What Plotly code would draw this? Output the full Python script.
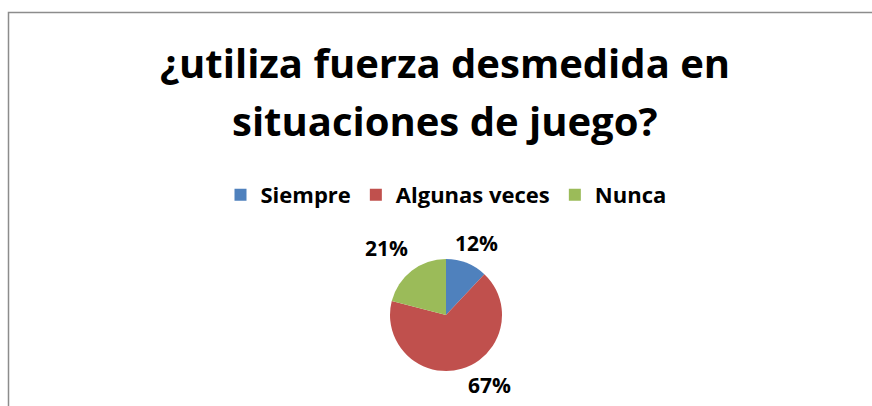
import math
import plotly.graph_objects as go

categories = ["Siempre", "Algunas veces", "Nunca"]
values = [12, 67, 21]
colors = ["#4F81BD", "#C0504D", "#9BBB59"]
title_lines = ["¿utiliza fuerza desmedida en", "situaciones de juego?"]

W, H = 872, 406
cx, cy, R = 446, 315, 56  # pie centre / radius in pixels (from top-left)

fig = go.Figure(go.Pie(
    labels=categories,
    values=values,
    marker=dict(colors=colors, line=dict(width=0)),
    sort=False,
    direction="clockwise",
    rotation=0,
    textinfo="none",
    hoverinfo="label+percent",
    domain=dict(x=[(cx - R) / W, (cx + R) / W],
                y=[(H - cy - R) / H, (H - cy + R) / H]),
))

# percentage labels placed outside each slice, from the slice mid-angle
total = sum(values)
cum = 0
nudges = [(2, 0), (22, -4), (-12, -6)]
annotations = []
for v, (nx, ny) in zip(values, nudges):
    mid = (cum + v / 2) / total * 2 * math.pi
    cum += v
    k = 1.38
    px = cx + R * k * math.sin(mid) + nx
    py = cy - R * k * math.cos(mid) + ny
    annotations.append(dict(
        x=px / W, y=1 - py / H, xref="paper", yref="paper",
        text=f"{round(v / total * 100)}%", showarrow=False,
        font=dict(family="Open Sans", size=21, color="#000000", weight="bold"),
        xanchor="center", yanchor="middle",
    ))

# title lines
for txt, base in zip(title_lines, [62, 120]):
    annotations.append(dict(
        x=445 / W, y=1 - base / H, xref="paper", yref="paper",
        text=txt, showarrow=False,
        font=dict(family="Open Sans", size=40, color="#000000", weight="bold"),
        xanchor="center", yanchor="middle",
    ))

fig.update_layout(
    width=W, height=H,
    margin=dict(l=0, r=0, t=0, b=0),
    paper_bgcolor="#FFFFFF",
    plot_bgcolor="#FFFFFF",
    showlegend=True,
    legend=dict(
        orientation="h", x=446 / W, xanchor="center",
        y=1 - 195 / H, yanchor="middle",
        font=dict(family="Open Sans", size=22, color="#000000", weight="bold"),
        itemwidth=30, traceorder="normal",
        bgcolor="rgba(0,0,0,0)",
    ),
    annotations=annotations,
    shapes=[dict(
        type="rect", xref="paper", yref="paper",
        x0=8.5 / W, x1=1.02, y0=-0.02, y1=1 - 12.5 / H,
        line=dict(color="#8C8C8C", width=1.5), fillcolor="rgba(0,0,0,0)",
        layer="below",
    )],
)

fig.write_html("out.html", post_script="document.body.style.margin='0';",
               config={"displayModeBar": False})
